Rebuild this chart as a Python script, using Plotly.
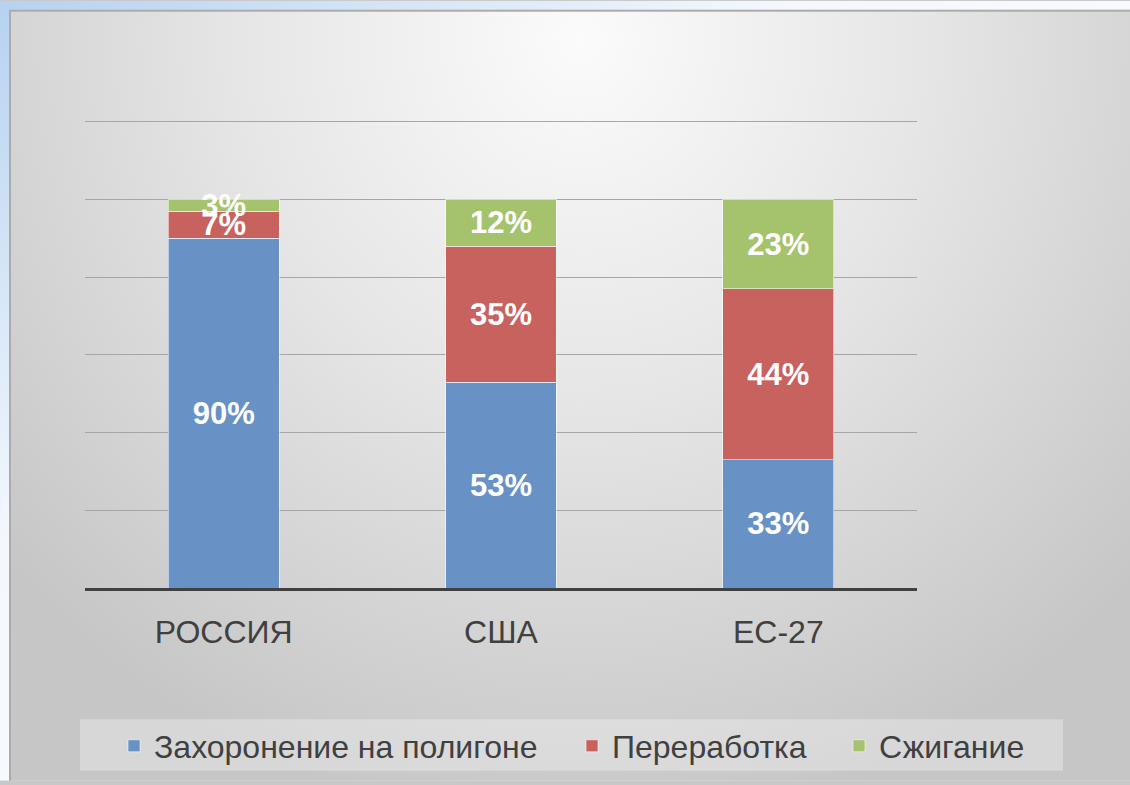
import base64
import plotly.graph_objects as go

categories = ["РОССИЯ", "США", "ЕС-27"]
series_names = ["Захоронение на полигоне", "Переработка", "Сжигание"]
landfill = [90, 53, 33]
recycling = [7, 35, 44]
incineration = [3, 12, 23]
series_values = [landfill, recycling, incineration]
colors = ["#6891C5", "#C8625F", "#A5C26C"]

W, H = 1130, 785
YMAX = 120.5
L, R, B = 85, 213, 194
T = 591 - round(YMAX * (591 - 122) / 120)
pw, ph = W - L - R, H - T - B

svg = f'''<svg xmlns="http://www.w3.org/2000/svg" width="{W}" height="{H}" viewBox="0 0 {W} {H}" preserveAspectRatio="none">
<defs>
<linearGradient id="o" x1="0" y1="0" x2="1" y2="1">
<stop offset="0" stop-color="#b6d2f0"/><stop offset="0.35" stop-color="#f4f8fd"/><stop offset="1" stop-color="#ffffff"/>
</linearGradient>
<radialGradient id="g" gradientUnits="userSpaceOnUse" cx="580" cy="40" r="760" gradientTransform="translate(580 40) scale(1 1.05) translate(-580 -40)">
<stop offset="0" stop-color="#fbfbfb"/><stop offset="0.45" stop-color="#e6e6e6"/><stop offset="1" stop-color="#c6c6c6"/>
</radialGradient>
</defs>
<rect x="0" y="0" width="{W}" height="{H}" fill="url(#o)"/>
<rect x="10" y="10" width="{W+20}" height="{H+20}" fill="url(#g)" stroke="#ababab" stroke-width="2"/>
</svg>'''
src = "data:image/svg+xml;base64," + base64.b64encode(svg.encode()).decode()

fig = go.Figure()
for i, (name, vals) in enumerate(zip(series_names, series_values)):
    fig.add_trace(go.Bar(
        x=categories, y=vals, name=name,
        marker=dict(color=colors[i], line=dict(color="rgba(255,255,255,0.55)", width=1)),
        texttemplate="%{y}%", textposition="inside", insidetextanchor="middle",
        textangle=0, constraintext="none",
        textfont=dict(family="Liberation Sans, Arial", size=31, color="white", weight="bold"),
        legend=["legend", "legend2", "legend3"][i],
    ))

leg_common = dict(orientation="h", yanchor="middle", xanchor="left",
                  bgcolor="rgba(0,0,0,0)", font=dict(family="Liberation Sans, Arial", size=32, color="#404040"),
                  itemwidth=30, y=(H - B - 750) / ph)
text_x = [155, 613, 880]

fig.update_layout(
    width=W, height=H,
    margin=dict(l=L, r=R, t=T, b=B, pad=0),
    barmode="stack", bargap=0.6,
    paper_bgcolor="#c8c8c8", plot_bgcolor="rgba(0,0,0,0)",
    showlegend=True,
    uniformtext=dict(minsize=31, mode="show"),
    legend=dict(**leg_common, x=(text_x[0] - 41 - L) / pw),
    legend2=dict(**leg_common, x=(text_x[1] - 41 - L) / pw),
    legend3=dict(**leg_common, x=(text_x[2] - 41 - L) / pw),
    xaxis=dict(showline=True, linecolor="#404040", linewidth=3, ticks="",
               tickfont=dict(family="Liberation Sans, Arial", size=32, color="#404040"),
               ticklabelstandoff=14, showgrid=False),
    yaxis=dict(range=[0, YMAX], dtick=20, showgrid=True, gridcolor="#a6a6a6", gridwidth=1,
               showticklabels=False, zeroline=False, showline=False, ticks=""),
    images=[dict(source=src, xref="paper", yref="paper", x=-L / pw, y=(H - B) / ph,
                 sizex=W / pw, sizey=H / ph, sizing="stretch", xanchor="left", yanchor="top",
                 layer="below")],
    shapes=[dict(type="rect", xref="paper", yref="paper", layer="below",
                 x0=(80 - L) / pw, x1=(1063 - L) / pw,
                 y0=(H - B - 775) / ph, y1=(H - B - 723) / ph,
                 fillcolor="rgba(255,255,255,0.3)", line=dict(width=0))],
)

fig.write_html(
    "out.html", config={"displayModeBar": False},
    post_script=("document.documentElement.style.margin='0';"
                 "document.documentElement.style.background='#c8c8c8';"
                 "document.body.style.margin='0';document.body.style.background='#c8c8c8';"
                 "document.body.style.overflow='hidden';"),
)
